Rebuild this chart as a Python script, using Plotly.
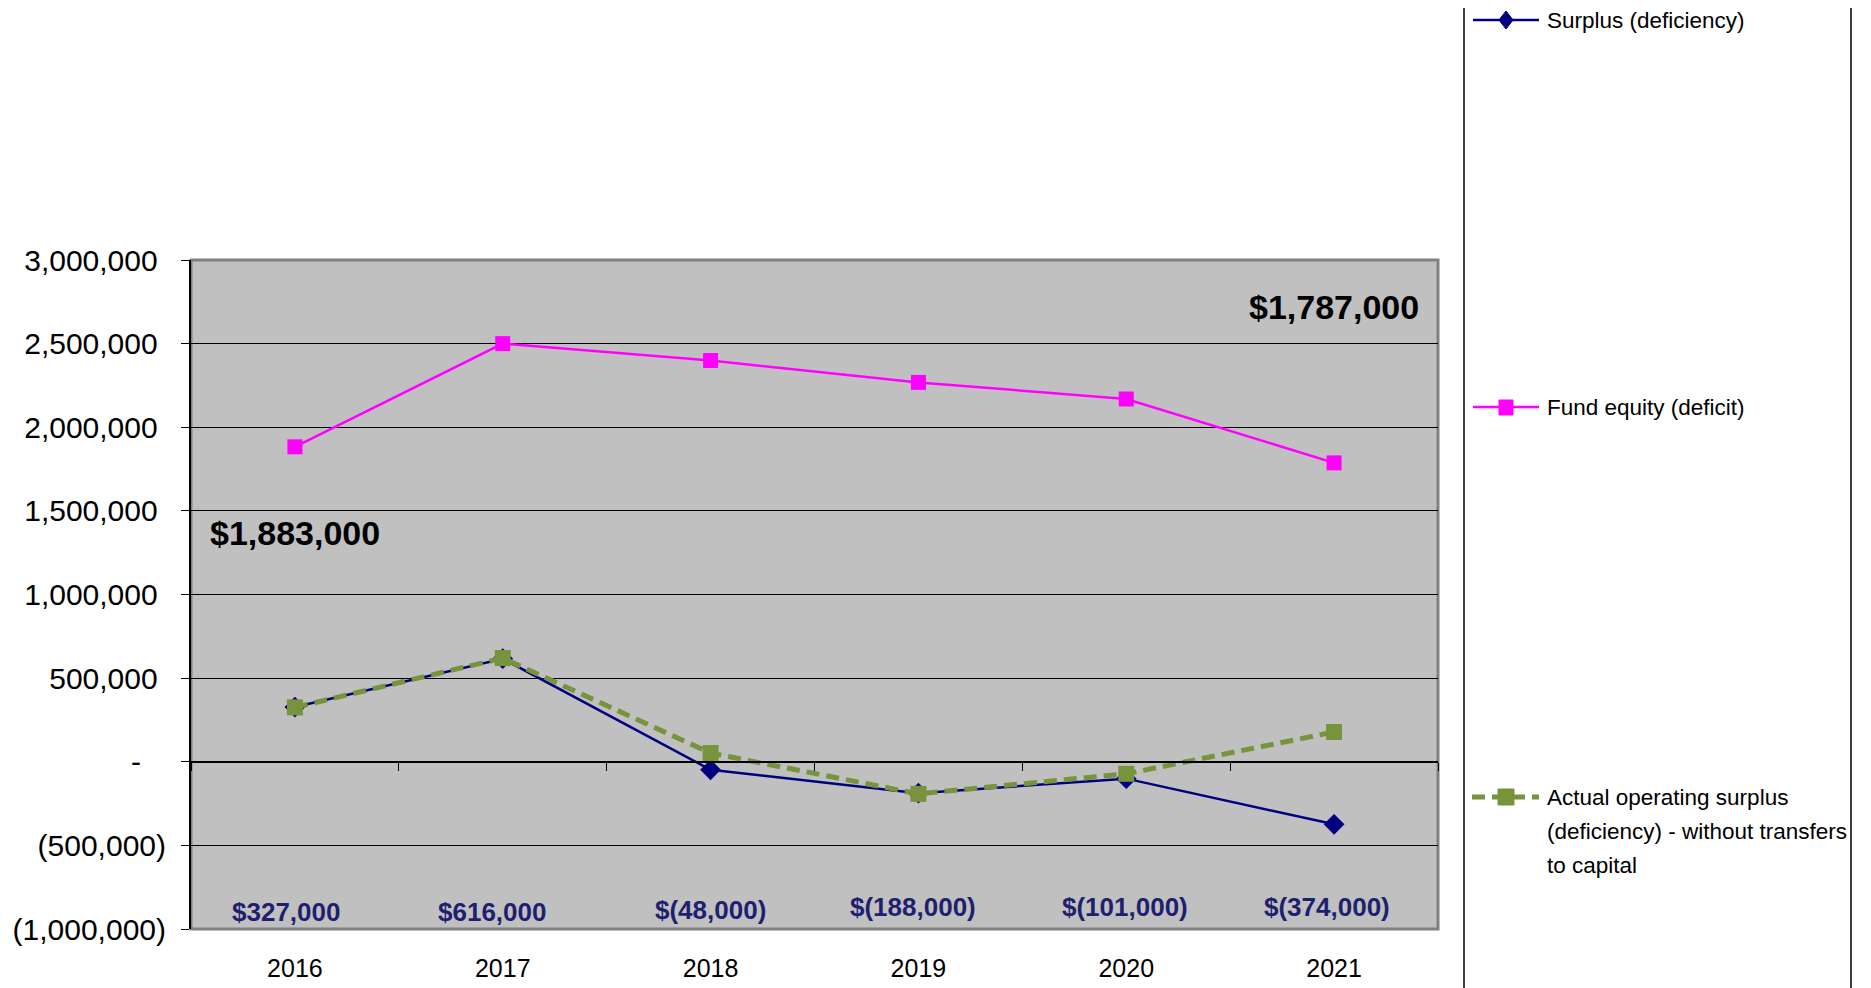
import plotly.graph_objects as go

# ---------------- data ----------------
years = ["2016", "2017", "2018", "2019", "2020", "2021"]
surplus = [327000, 616000, -48000, -188000, -101000, -374000]
fund_equity = [1883000, 2500000, 2399000, 2268000, 2169000, 1787000]
actual_operating = [325000, 620000, 52000, -192000, -72000, 178000]

surplus_labels = ["$327,000", "$616,000", "$(48,000)", "$(188,000)", "$(101,000)", "$(374,000)"]
equity_first_label = "$1,883,000"
equity_last_label = "$1,787,000"

y_tickvals = [3000000, 2500000, 2000000, 1500000, 1000000, 500000, 0, -500000, -1000000]
y_ticktext = ["3,000,000", "2,500,000", "2,000,000", "1,500,000", "1,000,000", "500,000",
              "-", "(500,000)", "(1,000,000)"]

series_names = ["Surplus (deficiency)", "Fund equity (deficit)",
                "Actual operating surplus (deficiency) - without transfers to capital"]
legend_lines = [["Surplus (deficiency)"], ["Fund equity (deficit)"],
                ["Actual operating surplus", "(deficiency) - without transfers", "to capital"]]

# ---------------- layout geometry (screen pixels) ----------------
W_PX, H_PX = 1871, 988
PAGE_OFF = 8  # default body margin of the html page
L, R, T, B = 191, 1438, 260, 929
PW, PH = R - L, B - T
FIG_W, FIG_H = W_PX - PAGE_OFF, H_PX - PAGE_OFF


def px(x):
    return (x - L) / PW


def py(y):
    return (B - y) / PH


SANS = "Liberation Sans, Arial, sans-serif"

NAVY = "#000080"
MAGENTA = "#FF00FF"
GREEN = "#77933C"
LABEL_NAVY = "#1F1F70"

fig = go.Figure()

fig.add_trace(go.Scatter(
    x=years, y=surplus, mode="lines+markers", name=series_names[0],
    line=dict(color=NAVY, width=2.5),
    marker=dict(symbol="diamond", size=16, color=NAVY),
    showlegend=False, hoverinfo="skip"))

fig.add_trace(go.Scatter(
    x=years, y=fund_equity, mode="lines+markers", name=series_names[1],
    line=dict(color=MAGENTA, width=2.5),
    marker=dict(symbol="square", size=15, color=MAGENTA),
    showlegend=False, hoverinfo="skip"))

fig.add_trace(go.Scatter(
    x=years, y=actual_operating, mode="lines+markers", name=series_names[2],
    xaxis="x2",
    line=dict(color=GREEN, width=5, dash="13px,7px"),
    marker=dict(symbol="square", size=16, color=GREEN),
    showlegend=False, hoverinfo="skip"))

# accounting-like alignment of y tick text
y_ticktext_aligned = []
for v, t in zip(y_tickvals, y_ticktext):
    if v > 0:
        y_ticktext_aligned.append(t + "\u00a0")
    elif v == 0:
        y_ticktext_aligned.append(t + "\u00a0\u00a0\u00a0")
    else:
        y_ticktext_aligned.append(t)

annotations = []
# surplus value labels near bottom of plot
label_shift = [-9, -11, 0, -5, -1, -7]
label_y = [912, 912, 910, 907, 907, 907]
for i, (txt, dx, ly) in enumerate(zip(surplus_labels, label_shift, label_y)):
    annotations.append(dict(
        x=i, y=py(ly), xref="x", yref="paper", text="<b>" + txt + "</b>", showarrow=False,
        xshift=dx, xanchor="center", yanchor="middle",
        font=dict(family=SANS, size=26, color=LABEL_NAVY)))

# fund equity first/last labels
annotations.append(dict(
    x=0, y=py(533), xref="x", yref="paper", text="<b>" + equity_first_label + "</b>",
    showarrow=False, xanchor="center", yanchor="middle",
    font=dict(family=SANS, size=34, color="black")))
annotations.append(dict(
    x=len(years) - 1, y=py(307), xref="x", yref="paper", text="<b>" + equity_last_label + "</b>",
    showarrow=False, xanchor="center", yanchor="middle",
    font=dict(family=SANS, size=34, color="black")))

# legend (manual)
leg_text_x = px(1545)
leg_rows = [[20], [407], [797, 831, 865]]
for lines, rows in zip(legend_lines, leg_rows):
    for line, ry in zip(lines, rows):
        annotations.append(dict(
            x=leg_text_x, y=py(ry), xref="paper", yref="paper", text=line,
            showarrow=False, xanchor="left", yanchor="middle", align="left",
            font=dict(family=SANS, size=22.5, color="black")))

shapes = []
# plot area border (gray)
shapes.append(dict(type="rect", xref="paper", yref="paper", x0=0, x1=1, y0=0, y1=1,
                   line=dict(color="#808080", width=3), fillcolor="rgba(0,0,0,0)", layer="below"))
# legend box verticals
for lx in (1464, 1851):
    shapes.append(dict(type="line", xref="paper", yref="paper", x0=px(lx), x1=px(lx),
                       y0=py(H_PX + 20), y1=py(-20), line=dict(color="black", width=1.5)))


def diamond_path(cx, cy, hw, hh):
    return (f"M {px(cx - hw)} {py(cy)} L {px(cx)} {py(cy - hh)} "
            f"L {px(cx + hw)} {py(cy)} L {px(cx)} {py(cy + hh)} Z")


# legend glyphs
shapes.append(dict(type="line", xref="paper", yref="paper", x0=px(1473), x1=px(1539),
                   y0=py(20), y1=py(20), line=dict(color=NAVY, width=2.5)))
shapes.append(dict(type="path", xref="paper", yref="paper", path=diamond_path(1506, 20, 7, 9),
                   fillcolor=NAVY, line=dict(color=NAVY, width=1)))
shapes.append(dict(type="line", xref="paper", yref="paper", x0=px(1473), x1=px(1539),
                   y0=py(407), y1=py(407), line=dict(color=MAGENTA, width=2.5)))
shapes.append(dict(type="rect", xref="paper", yref="paper", x0=px(1499), x1=px(1513),
                   y0=py(400), y1=py(415), fillcolor=MAGENTA, line=dict(color=MAGENTA, width=1)))
shapes.append(dict(type="line", xref="paper", yref="paper", x0=px(1472), x1=px(1539),
                   y0=py(797), y1=py(797), line=dict(color=GREEN, width=5, dash="13px,7px")))
shapes.append(dict(type="rect", xref="paper", yref="paper", x0=px(1498), x1=px(1514),
                   y0=py(789), y1=py(805), fillcolor=GREEN, line=dict(color=GREEN, width=1)))

zero_pos = (0 - (-1000000)) / 4000000.0

fig.update_layout(
    width=FIG_W, height=FIG_H,
    margin=dict(l=L - PAGE_OFF, r=FIG_W - (R - PAGE_OFF), t=T - PAGE_OFF,
                b=FIG_H - (B - PAGE_OFF), pad=0, autoexpand=False),
    paper_bgcolor="white", plot_bgcolor="#C0C0C0",
    showlegend=False,
    xaxis=dict(type="category", categoryorder="array", categoryarray=years,
               range=[-0.5, 5.5], showgrid=False, showline=False, zeroline=False,
               ticks="", ticklabelstandoff=22, automargin=False,
               tickfont=dict(family=SANS, size=25, color="black"), fixedrange=True),
    xaxis2=dict(type="category", categoryorder="array", categoryarray=years,
                range=[-0.5, 5.5], overlaying="x", anchor="free", position=zero_pos,
                showgrid=False, showline=True, linecolor="black", linewidth=1.5,
                ticks="outside", tickson="boundaries", ticklen=8, tickcolor="black",
                tickwidth=1, showticklabels=False, zeroline=False, fixedrange=True,
                automargin=False),
    yaxis=dict(range=[-1000000, 3000000], tickvals=y_tickvals, ticktext=y_ticktext_aligned,
               showgrid=True, gridcolor="black", gridwidth=1, zeroline=False,
               showline=True, linecolor="black", linewidth=2,
               ticks="outside", ticklen=8, tickcolor="black", tickwidth=1,
               ticklabelstandoff=9, automargin=False,
               tickfont=dict(family=SANS, size=30, color="black"), fixedrange=True),
    annotations=annotations,
    shapes=shapes,
)

fig.write_html("out.html")
